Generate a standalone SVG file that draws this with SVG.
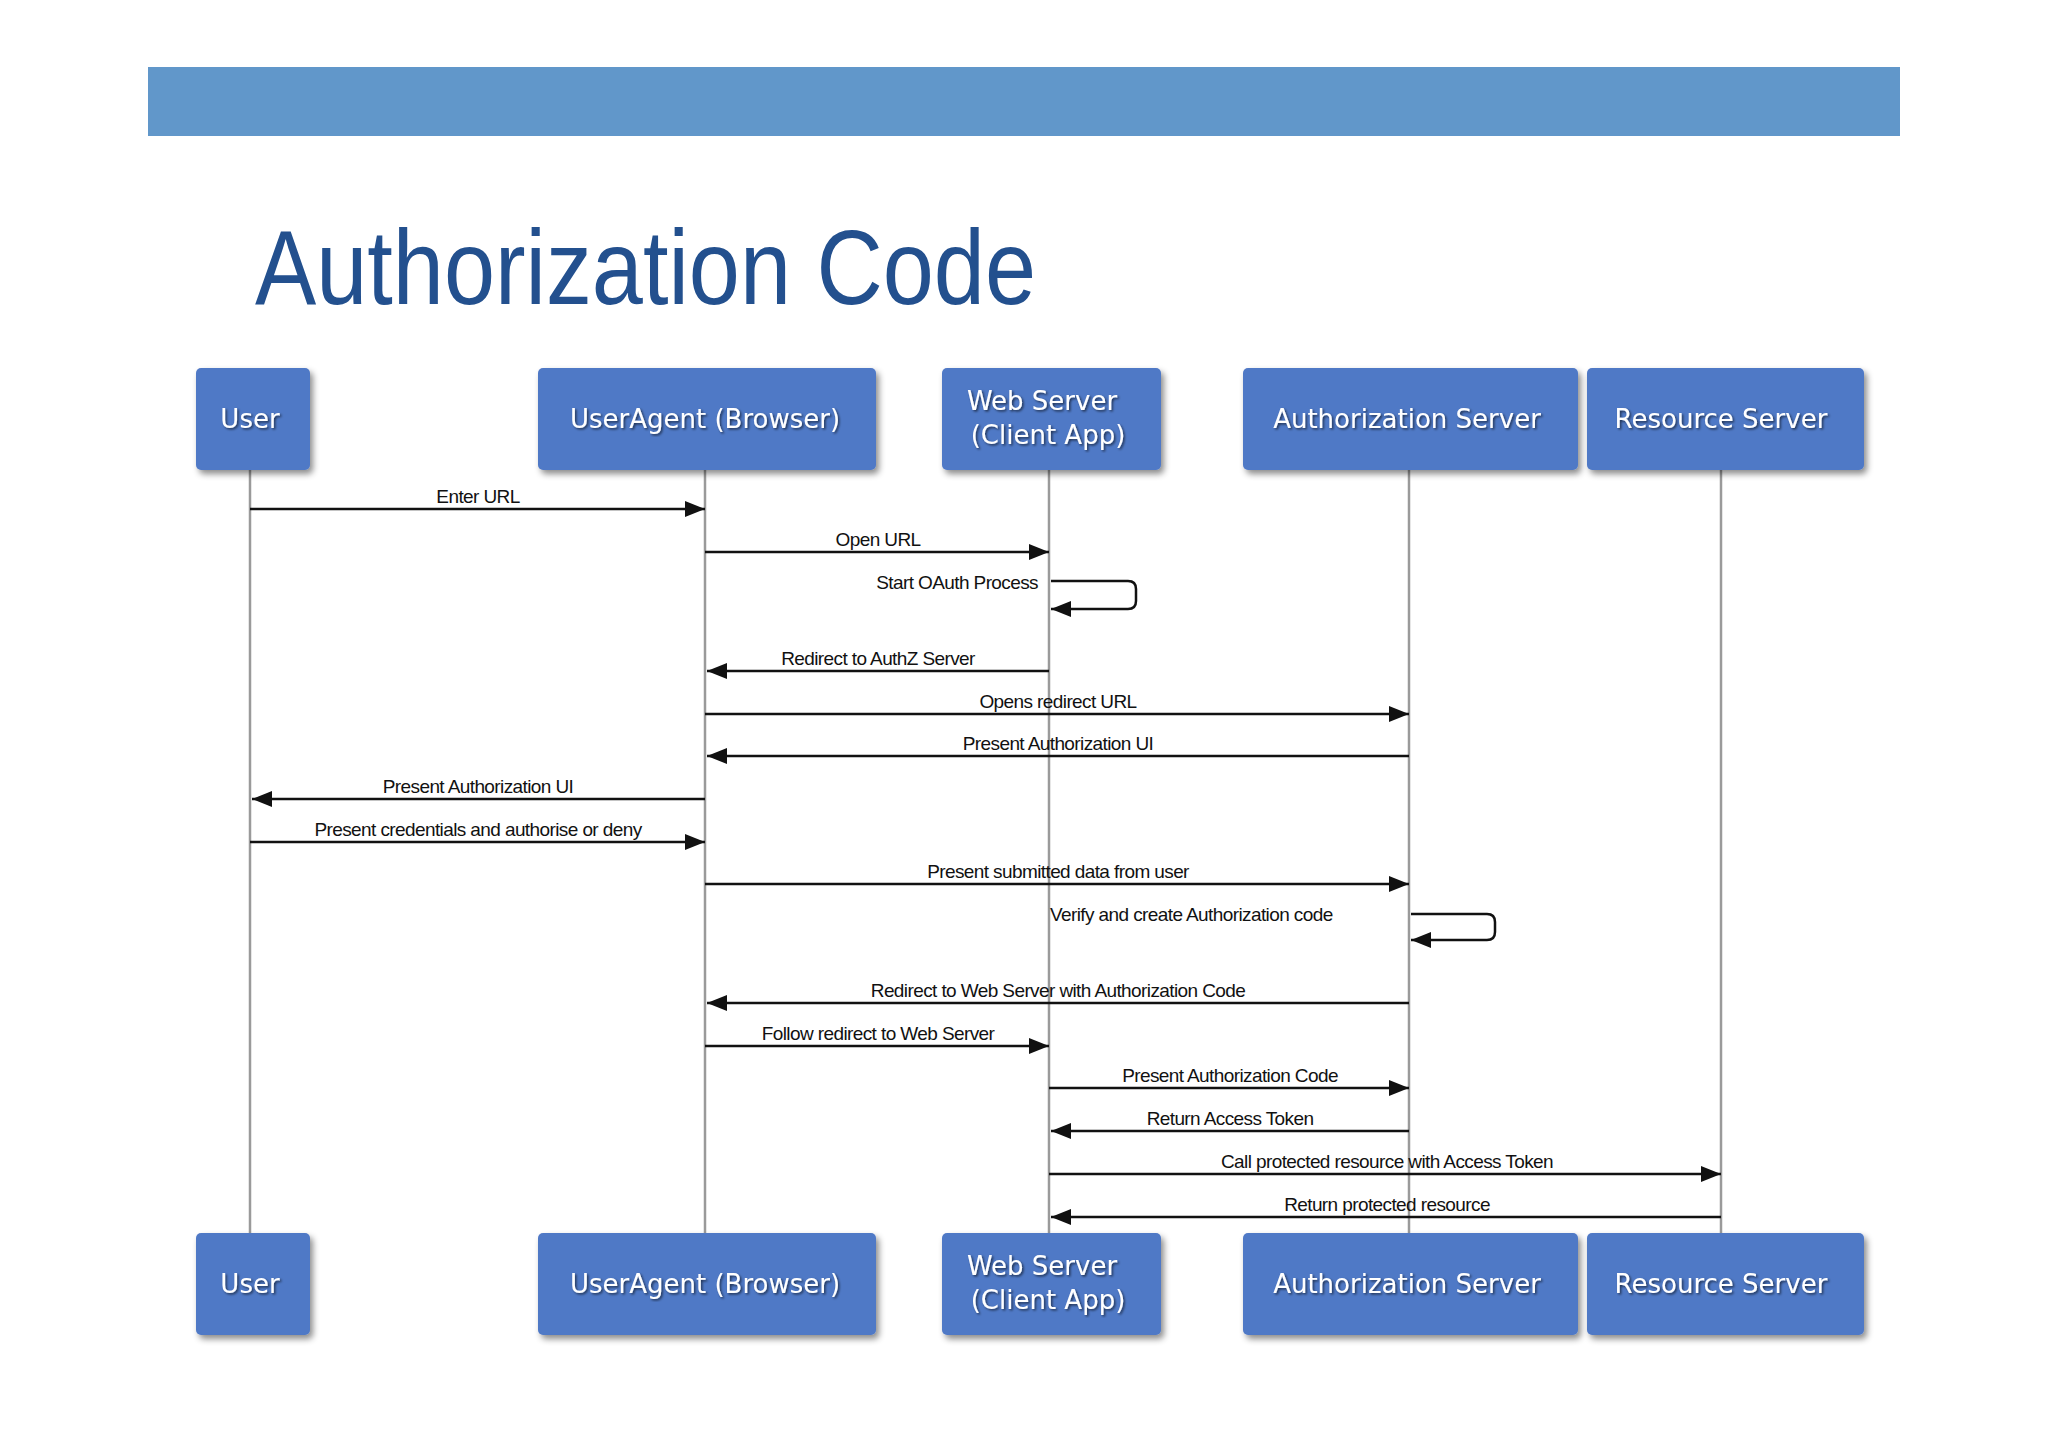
<svg xmlns="http://www.w3.org/2000/svg" width="2048" height="1447" viewBox="0 0 2048 1447">
<style>
.box{fill:#5079c6;}
.bt{font-family:"DejaVu Sans",sans-serif;font-size:26px;fill:#fff;text-anchor:middle;}
.ll{stroke:#9a9a9a;stroke-width:2.5;fill:none;}
.m{stroke:#111;stroke-width:2.5;fill:none;}
.lb{font-family:"Liberation Sans",sans-serif;font-size:19px;fill:#111;text-anchor:middle;letter-spacing:-0.6px;}
</style>
<defs>
<filter id="sh" x="-10%" y="-10%" width="130%" height="130%"><feDropShadow dx="3" dy="4" stdDeviation="3" flood-color="#000" flood-opacity="0.45"/></filter>
<filter id="ts"><feDropShadow dx="1.5" dy="1.5" stdDeviation="1" flood-color="#000" flood-opacity="0.6"/></filter>
<marker id="ah" viewBox="0 0 20 16" refX="20" refY="8" markerWidth="20" markerHeight="16" markerUnits="userSpaceOnUse" orient="auto"><path d="M0,0 L20,8 L0,16 Z" fill="#111"/></marker>
</defs>
<rect width="2048" height="1447" fill="#fff"/>
<rect x="148" y="67" width="1752" height="69" fill="#6197ca"/>
<text x="255" y="304" font-family="Liberation Sans,Arial,sans-serif" font-size="106" fill="#23508e" textLength="781" lengthAdjust="spacingAndGlyphs">Authorization Code</text>

<g id="lifelines" class="ll">
<line x1="250" y1="470" x2="250" y2="1233"/>
<line x1="705" y1="470" x2="705" y2="1233"/>
<line x1="1049" y1="470" x2="1049" y2="1233"/>
<line x1="1409" y1="470" x2="1409" y2="1233"/>
<line x1="1721" y1="470" x2="1721" y2="1233"/>
</g>

<g id="top-user"><rect class="box" filter="url(#sh)" x="196" y="368" width="114" height="102" rx="5"/><text class="bt" filter="url(#ts)" x="250" y="428">User</text></g>
<g id="top-ua"><rect class="box" filter="url(#sh)" x="538" y="368" width="338" height="102" rx="5"/><text class="bt" filter="url(#ts)" x="705" y="428">UserAgent (Browser)</text></g>
<g id="top-ws"><rect class="box" filter="url(#sh)" x="942" y="368" width="219" height="102" rx="5"/><text class="bt" filter="url(#ts)" x="1042" y="410">Web Server</text><text class="bt" filter="url(#ts)" x="1048" y="444">(Client App)</text></g>
<g id="top-as"><rect class="box" filter="url(#sh)" x="1243" y="368" width="335" height="102" rx="5"/><text class="bt" filter="url(#ts)" x="1407" y="428">Authorization Server</text></g>
<g id="top-rs"><rect class="box" filter="url(#sh)" x="1587" y="368" width="277" height="102" rx="5"/><text class="bt" filter="url(#ts)" x="1721" y="428">Resource Server</text></g>

<g id="bot-user"><rect class="box" filter="url(#sh)" x="196" y="1233" width="114" height="102" rx="5"/><text class="bt" filter="url(#ts)" x="250" y="1293">User</text></g>
<g id="bot-ua"><rect class="box" filter="url(#sh)" x="538" y="1233" width="338" height="102" rx="5"/><text class="bt" filter="url(#ts)" x="705" y="1293">UserAgent (Browser)</text></g>
<g id="bot-ws"><rect class="box" filter="url(#sh)" x="942" y="1233" width="219" height="102" rx="5"/><text class="bt" filter="url(#ts)" x="1042" y="1275">Web Server</text><text class="bt" filter="url(#ts)" x="1048" y="1309">(Client App)</text></g>
<g id="bot-as"><rect class="box" filter="url(#sh)" x="1243" y="1233" width="335" height="102" rx="5"/><text class="bt" filter="url(#ts)" x="1407" y="1293">Authorization Server</text></g>
<g id="bot-rs"><rect class="box" filter="url(#sh)" x="1587" y="1233" width="277" height="102" rx="5"/><text class="bt" filter="url(#ts)" x="1721" y="1293">Resource Server</text></g>

<g id="connectors">
<g class="m" marker-end="url(#ah)">
<line x1="250" y1="509" x2="705" y2="509"/>
<line x1="705" y1="552" x2="1049" y2="552"/>
<path d="M1051,581 H1128 Q1136,581 1136,589 V601 Q1136,609 1128,609 H1051"/>
<line x1="1049" y1="671" x2="707" y2="671"/>
<line x1="705" y1="714" x2="1409" y2="714"/>
<line x1="1409" y1="756" x2="707" y2="756"/>
<line x1="705" y1="799" x2="252" y2="799"/>
<line x1="250" y1="842" x2="705" y2="842"/>
<line x1="705" y1="884" x2="1409" y2="884"/>
<path d="M1411,914 H1487 Q1495,914 1495,922 V932 Q1495,940 1487,940 H1411"/>
<line x1="1409" y1="1003" x2="707" y2="1003"/>
<line x1="705" y1="1046" x2="1049" y2="1046"/>
<line x1="1049" y1="1088" x2="1409" y2="1088"/>
<line x1="1409" y1="1131" x2="1051" y2="1131"/>
<line x1="1049" y1="1174" x2="1721" y2="1174"/>
<line x1="1721" y1="1217" x2="1051" y2="1217"/>
</g>
<g class="lb">
<text x="478" y="503">Enter URL</text>
<text x="878" y="546">Open URL</text>
<text x="1038" y="589" text-anchor="end">Start OAuth Process</text>
<text x="878" y="665">Redirect to AuthZ Server</text>
<text x="1058" y="708">Opens redirect URL</text>
<text x="1058" y="750">Present Authorization UI</text>
<text x="478" y="793">Present Authorization UI</text>
<text x="478" y="836">Present credentials and authorise or deny</text>
<text x="1058" y="878">Present submitted data from user</text>
<text x="1050" y="921" text-anchor="start">Verify and create Authorization code</text>
<text x="1058" y="997">Redirect to Web Server with Authorization Code</text>
<text x="878" y="1040">Follow redirect to Web Server</text>
<text x="1230" y="1082">Present Authorization Code</text>
<text x="1230" y="1125">Return Access Token</text>
<text x="1387" y="1168">Call protected resource with Access Token</text>
<text x="1387" y="1211">Return protected resource</text>
</g>
</g>
</svg>
